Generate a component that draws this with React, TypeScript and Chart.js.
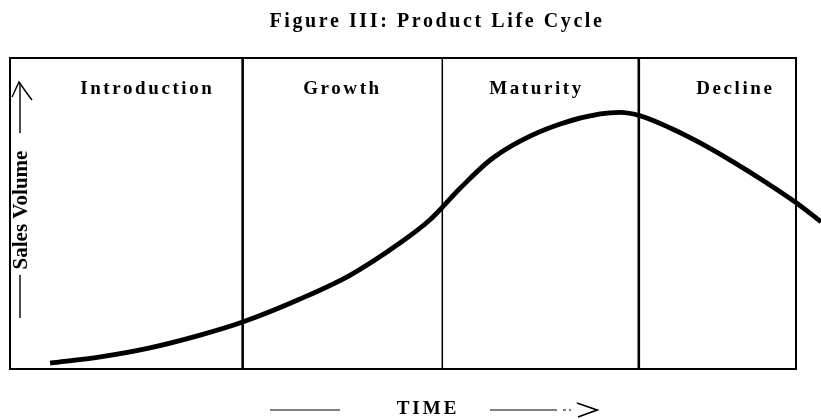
import { useEffect, useRef } from "react";
import { Chart, registerables } from "chart.js";

Chart.register(...registerables);

const TITLE = "Figure III: Product Life Cycle";
const X_LABEL = "TIME";
const Y_LABEL = "Sales Volume";
const PHASES = ["Introduction", "Growth", "Maturity", "Decline"];
const PHASE_BOUNDS = [0, 29.6, 55.0, 80.0, 100];
const TIME = [5.1, 11.5, 17.8, 24.2, 29.6, 36.9, 43.3, 49.6, 53.4, 57.3, 61.1, 64.9, 70.0, 75.1, 77.6, 80.2, 84.0, 87.8, 92.0, 96.3, 99.9, 103.2];
const SALES = [1.9, 3.9, 6.8, 10.9, 15.1, 22.5, 30.2, 40.5, 47.9, 58.2, 67.2, 73.3, 78.8, 82.0, 82.5, 81.4, 77.5, 72.7, 66.6, 59.8, 53.7, 47.3];

const SERIF = "'Liberation Serif', 'Times New Roman', serif";
const LABEL_NUDGE = [21, 0, -4, 18];

const decor = {
  id: "decor",
  beforeDatasetsDraw(chart: any) {
    const { ctx, chartArea: a } = chart;
    ctx.save();
    ctx.strokeStyle = "#000";
    ctx.lineWidth = 2;
    ctx.strokeRect(a.left, a.top, a.right - a.left, a.bottom - a.top);
    ctx.restore();
  },
  afterDraw(chart: any) {
    const { ctx, chartArea: a } = chart;
    const xs = chart.scales.x;
    ctx.save();
    ctx.fillStyle = "#000";
    ctx.strokeStyle = "#000";
    // title
    ctx.textAlign = "center";
    ctx.textBaseline = "alphabetic";
    ctx.font = `bold 20px ${SERIF}`;
    (ctx as any).letterSpacing = "2.6px";
    ctx.fillText(TITLE, 437, 27);
    // phase labels
    ctx.font = `bold 19px ${SERIF}`;
    (ctx as any).letterSpacing = "2.6px";
    PHASES.forEach((p, i) => {
      const cx = (xs.getPixelForValue(PHASE_BOUNDS[i]) + xs.getPixelForValue(PHASE_BOUNDS[i + 1])) / 2 + LABEL_NUDGE[i];
      ctx.fillText(p, cx, a.top + 36);
    });
    // x label
    ctx.font = `bold 19px ${SERIF}`;
    (ctx as any).letterSpacing = "3px";
    ctx.fillText(X_LABEL, 428, 414);
    (ctx as any).letterSpacing = "0px";
    ctx.lineWidth = 1.2;
    ctx.beginPath();
    ctx.moveTo(270, 410); ctx.lineTo(340, 410);
    ctx.moveTo(490, 410); ctx.lineTo(557, 410);
    ctx.moveTo(563, 410); ctx.lineTo(566, 410);
    ctx.moveTo(569, 410); ctx.lineTo(571, 410);
    ctx.stroke();
    ctx.lineWidth = 1.8;
    ctx.beginPath();
    ctx.moveTo(577, 403); ctx.lineTo(597, 410); ctx.lineTo(578, 417);
    ctx.stroke();
    // y label
    ctx.save();
    ctx.translate(a.left + 12, 210);
    ctx.rotate(-Math.PI / 2);
    ctx.font = `bold 21px ${SERIF}`;
    ctx.textBaseline = "middle";
    ctx.fillText(Y_LABEL, 0, 0);
    ctx.restore();
    ctx.lineWidth = 1.4;
    ctx.beginPath();
    ctx.moveTo(a.left + 10, 83); ctx.lineTo(a.left + 10, 133);
    ctx.moveTo(a.left + 10, 275); ctx.lineTo(a.left + 10, 318);
    ctx.stroke();
    ctx.beginPath();
    ctx.moveTo(a.left + 2, 97); ctx.lineTo(a.left + 9, 82); ctx.lineTo(a.left + 16, 92); ctx.lineTo(a.left + 22, 100);
    ctx.stroke();
    ctx.restore();
  },
};

export default function App() {
  const ref = useRef<HTMLCanvasElement>(null);
  useEffect(() => {
    if (!ref.current) return;
    const dividers = PHASE_BOUNDS.slice(1, -1).map((b, i) => ({
      type: "line" as const,
      data: [{ x: b, y: 0 }, { x: b, y: 100 }],
      borderColor: "#000",
      borderWidth: i === 1 ? 1.5 : 2.6,
      pointRadius: 0,
      tension: 0,
    }));
    const chart = new Chart(ref.current, {
      type: "line",
      data: {
        datasets: [
          {
            data: TIME.map((t, i) => ({ x: t, y: SALES[i] })),
            borderColor: "#000",
            borderWidth: 4.8,
            pointRadius: 0,
            cubicInterpolationMode: "monotone",
            clip: false as any,
          },
          ...dividers,
        ] as any,
      },
      options: {
        responsive: false,
        animation: false,
        layout: { padding: { left: 10, right: 25, top: 58, bottom: 50 } },
        plugins: { legend: { display: false }, tooltip: { enabled: false }, title: { display: false } },
        scales: {
          x: { type: "linear", min: 0, max: 100, display: false },
          y: { type: "linear", min: 0, max: 100, display: false },
        },
      },
      plugins: [decor],
    });
    return () => chart.destroy();
  }, []);
  return (
    <div style={{ position: "fixed", left: 0, top: 0, width: 821, height: 419, background: "#fff" }}>
      <canvas ref={ref} width={821} height={419} />
    </div>
  );
}
